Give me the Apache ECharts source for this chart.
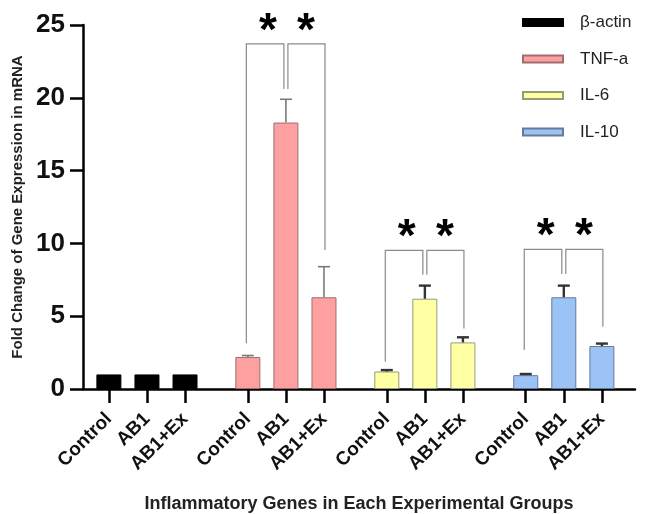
<!DOCTYPE html>
<html>
<head>
<meta charset="utf-8">
<script src="https://cdn.jsdelivr.net/npm/echarts@6/dist/echarts.min.js"></script>
<style>
html,body{margin:0;padding:0;background:#fff;}
#chart{width:645px;height:514px;}
</style>
</head>
<body>
<div id="chart"></div>
<script>
// ---- data ----
const categories = ['Control', 'AB1', 'AB1+Ex'];
const genes = ['β-actin', 'TNF-a', 'IL-6', 'IL-10'];
const betaActin = [1.0, 1.0, 1.0];
const tnfA = [2.2, 18.3, 6.3];
const il6 = [1.2, 6.2, 3.2];
const il10 = [0.95, 6.3, 2.95];
const betaActinErr = [0, 0, 0];
const tnfAErr = [0.1, 1.6, 2.1];
const il6Err = [0.1, 0.9, 0.35];
const il10Err = [0.08, 0.8, 0.17];
// significance brackets: [left leg bottom, middle legs bottom, right leg bottom, bracket top]
const tnfABracket = [3.15, 20.6, 9.55, 23.7];
const il6Bracket = [1.88, 7.85, 4.16, 9.52];
const il10Bracket = [2.67, 7.9, 4.27, 9.59];
const yTicks = [0, 5, 10, 15, 20, 25];

// ---- layout helpers ----
const groupStep = 3.65;
const xPos = (g, i) => g * groupStep + i;
const FONT = 'Liberation Sans, Arial, sans-serif';

const seriesValues = [betaActin, tnfA, il6, il10];
const seriesErr = [betaActinErr, tnfAErr, il6Err, il10Err];
const colors = ['#000000', '#FFA0A0', '#FFFFA3', '#9CC3F5'];
const borders = ['#000000', '#9E6E6E', '#9A9A7A', '#667A9A'];
const errColors = ['#000', '#7a7a7a', '#333', '#333'];
const errWidths = [1.5, 1.6, 2.4, 2.4];

const tickPositions = [];
const tickLabelMap = {};
for (let g = 0; g < genes.length; g++) {
  for (let i = 0; i < categories.length; i++) {
    const p = +xPos(g, i).toFixed(4);
    tickPositions.push(p);
    tickLabelMap[p.toFixed(4)] = categories[i];
  }
}

const series = [];
genes.forEach((name, g) => {
  series.push({
    name: name,
    type: 'bar',
    barWidth: 25,
    barGap: '-100%',
    itemStyle: { color: colors[g], borderColor: borders[g], borderWidth: 1 },
    data: seriesValues[g].map((v, i) => [xPos(g, i), v]),
    z: 2
  });
});

// error bars
genes.forEach((name, g) => {
  series.push({
    type: 'custom',
    silent: true,
    z: 3,
    data: seriesValues[g].map((v, i) => [xPos(g, i), v, v + seriesErr[g][i]]),
    renderItem: function (params, api) {
      const base = api.coord([api.value(0), api.value(1)]);
      const top = api.coord([api.value(0), api.value(2)]);
      if (api.value(2) <= api.value(1)) return null;
      const style = { stroke: errColors[g], lineWidth: errWidths[g] };
      return {
        type: 'group',
        children: [
          { type: 'line', shape: { x1: base[0], y1: base[1], x2: top[0], y2: top[1] }, style: style },
          { type: 'line', shape: { x1: top[0] - 6, y1: top[1], x2: top[0] + 6, y2: top[1] }, style: style }
        ]
      };
    }
  });
});

// brackets and asterisks
const brackets = [null, tnfABracket, il6Bracket, il10Bracket];
const bracketData = [];
brackets.forEach((b, g) => {
  if (!b) return;
  bracketData.push([xPos(g, 0), xPos(g, 1), xPos(g, 2), b[0], b[1], b[2], b[3]]);
});
series.push({
  type: 'custom',
  silent: true,
  z: 4,
  clip: false,
  data: bracketData,
  renderItem: function (params, api) {
    const L = api.coord([api.value(0), api.value(6)]);
    const M = api.coord([api.value(1), api.value(6)]);
    const R = api.coord([api.value(2), api.value(6)]);
    const lb = api.coord([api.value(0), api.value(3)])[1];
    const mb = api.coord([api.value(1), api.value(4)])[1];
    const rb = api.coord([api.value(2), api.value(5)])[1];
    const topY = L[1];
    const st = { stroke: '#8a8a8a', lineWidth: 1.2, fill: null };
    const starStyle = (x) => ({
      text: '*', x: x, y: topY - 12, fill: '#000',
      font: 'bold 46px ' + FONT, align: 'center', verticalAlign: 'middle'
    });
    return {
      type: 'group',
      children: [
        { type: 'polyline', shape: { points: [[L[0] - 1.5, lb], [L[0] - 1.5, topY], [M[0] - 2, topY], [M[0] - 2, mb]] }, style: st },
        { type: 'polyline', shape: { points: [[M[0] + 2, mb], [M[0] + 2, topY], [R[0] + 1, topY], [R[0] + 1, rb]] }, style: st },
        { type: 'text', style: starStyle((L[0] + M[0]) / 2 + 1) },
        { type: 'text', style: starStyle((M[0] + R[0]) / 2 + 1) }
      ]
    };
  }
});

const chart = echarts.init(document.getElementById('chart'), null, { renderer: 'canvas' });
chart.setOption({
  animation: false,
  backgroundColor: '#fff',
  textStyle: { fontFamily: FONT },
  grid: { left: 83, right: 10, top: 25, bottom: 125, containLabel: false, outerBoundsMode: 'none' },
  legend: {
    data: genes,
    orient: 'vertical',
    left: 517,
    top: 9,
    icon: 'rect',
    itemWidth: 40,
    itemHeight: 7,
    itemGap: 19.5,
    textStyle: { fontSize: 17, color: '#222', fontFamily: FONT, padding: [0, 0, 0, 12] }
  },
  xAxis: {
    type: 'value',
    min: -0.68,
    max: 13.82,
    splitLine: { show: false },
    axisLine: { show: true, onZero: true, lineStyle: { color: '#000', width: 2.5 } },
    axisTick: { show: true, customValues: tickPositions, length: 14, lineStyle: { color: '#000', width: 2.5 } },
    axisLabel: {
      show: true,
      customValues: tickPositions,
      rotate: 45,
      margin: 27,
      fontSize: 19,
      fontWeight: 'bold',
      color: '#111',
      fontFamily: FONT,
      formatter: function (v) { return tickLabelMap[(+v).toFixed(4)] || ''; }
    },
    name: 'Inflammatory Genes in Each Experimental Groups',
    nameLocation: 'middle',
    nameGap: 106,
    nameTextStyle: { fontSize: 18, fontWeight: 'bold', color: '#222', fontFamily: FONT }
  },
  yAxis: {
    type: 'value',
    min: 0,
    max: 25,
    interval: 5,
    splitLine: { show: false },
    axisLine: { show: true, onZero: false, lineStyle: { color: '#000', width: 2.5 } },
    axisTick: { show: true, length: 13, lineStyle: { color: '#000', width: 2.5 } },
    axisLabel: { fontSize: 26, fontWeight: 'bold', color: '#111', margin: 18, fontFamily: FONT,
      customValues: yTicks },
    name: 'Fold Change of Gene Expression in mRNA',
    nameLocation: 'middle',
    nameGap: 49,
    nameTextStyle: { fontSize: 15, fontWeight: 'bold', color: '#222', fontFamily: FONT }
  },
  series: series
});
</script>
</body>
</html>
